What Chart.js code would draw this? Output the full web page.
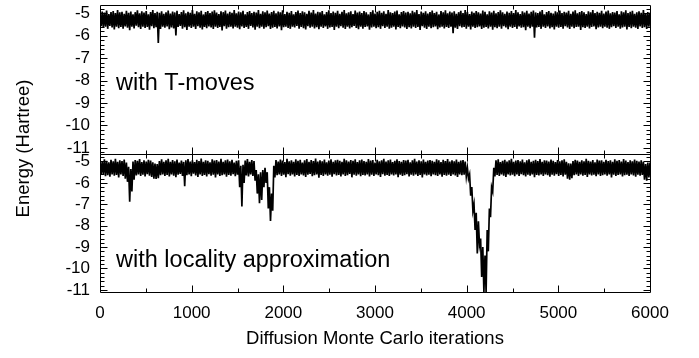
<!DOCTYPE html>
<html>
<head>
<meta charset="utf-8">
<script src="https://cdn.jsdelivr.net/npm/chart.js@4"></script>
<style>
  html, body { margin: 0; padding: 0; background: #fff; }
  #wrap { position: relative; width: 699px; height: 358px; }
</style>
</head>
<body>
<div id="wrap"><canvas id="chart" width="699" height="358"></canvas></div>
<script>
/* ---- data ---- */
const xTicks = [0, 1000, 2000, 3000, 4000, 5000, 6000];
const yTicks = [-11, -10, -9, -8, -7, -6, -5];
const panelLabels = ["with T-moves", "with locality approximation"];
const STEP = 12; // iterations between stored samples

// DMC energy trace with T-moves (every 12th iteration)
const tmoves = [
  -5.02,-5.58,-4.93,-5.66,-4.98,-5.61,-4.89,-5.70,-5.04,-5.57,-4.95,-5.64,-4.91,-5.73,-5.00,-5.60,-4.86,-5.67,-4.97,-5.62,
  -4.94,-5.69,-5.03,-5.59,-4.90,-5.65,-4.99,-5.76,-4.93,-5.61,-5.06,-5.68,-4.96,-5.56,-4.88,-5.63,-5.01,-5.71,-4.92,-5.60,
  -4.98,-5.66,-4.91,-5.62,-5.05,-5.74,-4.95,-5.58,-4.87,-5.67,-5.00,-5.63,-4.94,-6.33,-4.99,-5.70,-4.92,-5.61,-5.03,-5.65,
  -4.96,-5.59,-4.89,-5.72,-5.02,-5.64,-4.93,-5.68,-4.97,-6.00,-4.90,-5.62,-5.04,-5.57,-4.95,-5.69,-4.88,-5.63,-5.01,-5.75,
  -4.94,-5.60,-4.99,-5.66,-4.86,-5.61,-5.03,-5.70,-4.92,-5.58,-4.97,-5.65,-4.90,-5.73,-5.06,-5.62,-4.95,-5.67,-4.91,-5.59,
  -5.00,-5.64,-4.93,-5.71,-4.88,-5.60,-4.98,-5.66,-5.04,-5.62,-4.92,-5.77,-4.96,-5.58,-4.89,-5.69,-5.02,-5.63,-4.94,-5.61,
  -4.99,-5.68,-4.87,-5.60,-5.01,-5.65,-4.93,-5.72,-4.97,-5.59,-4.90,-5.66,-5.05,-5.62,-4.95,-5.70,-4.91,-5.57,-5.00,-5.64,
  -4.94,-5.74,-4.98,-5.61,-4.86,-5.67,-5.03,-5.60,-4.92,-5.69,-4.96,-5.63,-4.89,-5.58,-5.02,-5.71,-4.95,-5.65,-4.90,-5.62,
  -5.01,-5.68,-4.93,-5.59,-4.97,-5.76,-4.88,-5.63,-5.04,-5.61,-4.94,-5.66,-4.99,-5.70,-4.91,-5.60,-5.06,-5.64,-4.95,-5.57,
  -4.89,-5.69,-5.00,-5.62,-4.92,-5.67,-4.96,-5.73,-5.03,-5.58,-4.90,-5.65,-4.98,-5.61,-4.87,-5.68,-5.02,-5.63,-4.94,-5.72,
  -4.97,-5.60,-4.91,-5.66,-5.05,-5.59,-4.95,-5.70,-4.88,-5.64,-5.00,-5.62,-4.93,-5.75,-4.99,-5.61,-4.90,-5.67,-5.03,-5.58,
  -4.94,-5.65,-4.86,-5.71,-5.01,-5.60,-4.96,-5.68,-4.92,-5.63,-5.04,-5.57,-4.89,-5.66,-4.98,-5.72,-4.93,-5.61,-5.00,-5.69,
  -4.91,-5.62,-4.97,-5.59,-5.06,-5.74,-4.95,-5.64,-4.88,-5.60,-5.02,-5.67,-4.94,-5.63,-4.90,-5.70,-4.99,-5.58,-4.92,-5.66,
  -5.03,-5.61,-4.87,-5.69,-4.96,-5.65,-5.00,-5.60,-4.93,-5.73,-4.89,-5.62,-5.05,-5.67,-4.95,-5.59,-4.91,-5.64,-4.98,-5.71,
  -4.94,-5.63,-5.01,-5.68,-4.90,-5.60,-4.97,-5.66,-4.86,-5.62,-5.04,-5.75,-4.93,-5.58,-4.99,-5.65,-4.92,-5.70,-5.02,-5.61,
  -4.95,-5.67,-4.89,-5.63,-5.00,-5.59,-4.94,-5.72,-5.06,-5.64,-4.91,-5.60,-4.97,-5.68,-4.88,-5.62,-5.01,-5.66,-4.93,-5.61,
  -4.98,-5.90,-4.92,-5.65,-5.03,-5.70,-4.96,-5.58,-4.90,-5.64,-5.00,-5.62,-4.87,-5.69,-4.95,-5.61,-5.04,-5.73,-4.93,-5.60,
  -4.99,-5.66,-4.91,-5.63,-4.96,-5.59,-5.02,-5.71,-4.89,-5.65,-4.94,-5.62,-5.05,-5.68,-4.92,-5.60,-4.98,-5.74,-4.90,-5.63,
  -5.01,-5.67,-4.95,-5.61,-4.88,-5.69,-4.97,-5.58,-5.03,-5.64,-4.93,-5.72,-4.99,-5.60,-4.91,-5.66,-5.00,-5.62,-4.86,-5.70,
  -4.96,-5.59,-5.04,-5.65,-4.92,-5.63,-4.98,-5.76,-4.90,-5.61,-5.02,-5.67,-4.94,-5.60,-4.89,-6.10,-4.97,-5.64,-5.00,-5.62,
  -4.93,-5.70,-4.87,-5.61,-5.05,-5.66,-4.95,-5.59,-4.91,-5.68,-4.99,-5.63,-5.02,-5.73,-4.92,-5.60,-4.96,-5.65,-4.89,-5.62,
  -5.00,-5.69,-4.94,-5.58,-4.98,-5.64,-4.90,-5.71,-5.03,-5.61,-4.93,-5.67,-4.88,-5.62,-5.01,-5.60,-4.95,-5.75,-4.91,-5.63,
  -4.97,-5.66,-5.04,-5.60,-4.92,-5.68,-4.96,-5.62,-4.86,-5.59,-5.00,-5.72,-4.94,-5.64,-4.99,-5.61,-4.90,-5.67,-5.02,-5.60,
  -4.93,-5.65,-4.89,-5.70,-5.01,-5.63,-4.95,-5.58,-4.98,-5.66,-4.91,-5.61,-5.05,-5.69,-4.92,-5.64,-4.97,-5.60,-4.88,-5.73,
  -5.00,-5.62,-4.94,-5.67,-4.90,-5.60,-5.03,-5.65,-4.96,-5.71,-4.92,-5.59,-4.99,-5.66,-4.87,-5.63,-5.01,-5.70,-4.95,-5.61,
  -4.98
];

// DMC energy trace with the locality approximation (every 12th iteration)
const locality = [
  -4.95,-5.62,-5.01,-5.58,-4.90,-5.69,-4.97,-5.64,-5.04,-5.71,-4.92,-5.60,-4.99,-5.66,-4.88,-5.63,-5.02,-5.74,-4.94,-5.61,
  -4.98,-5.67,-4.91,-5.80,-5.05,-5.95,-5.25,-6.88,-5.35,-6.40,-5.00,-5.85,-4.93,-5.65,-4.97,-5.60,-4.89,-5.68,-5.03,-5.62,
  -4.94,-5.70,-5.00,-5.59,-4.92,-5.66,-4.96,-5.72,-5.04,-5.80,-5.10,-5.82,-5.12,-5.78,-4.98,-5.64,-4.90,-5.61,-5.01,-5.67,
  -4.95,-5.63,-4.87,-5.70,-5.02,-5.60,-4.93,-5.66,-4.99,-5.73,-4.91,-5.62,-5.05,-5.58,-4.96,-5.68,-5.02,-6.15,-4.94,-5.64,
  -4.89,-5.61,-5.00,-5.69,-4.95,-5.57,-5.03,-5.65,-4.92,-5.72,-4.98,-5.60,-4.86,-5.67,-5.01,-5.63,-4.94,-5.70,-4.97,-5.59,
  -5.04,-5.66,-4.90,-5.62,-4.96,-5.75,-4.93,-5.61,-5.00,-5.68,-4.88,-5.64,-5.02,-5.60,-4.95,-5.71,-4.91,-5.63,-4.99,-5.66,
  -4.92,-5.59,-5.05,-5.69,-4.97,-5.62,-4.94,-6.20,-5.20,-7.10,-5.15,-6.00,-4.96,-5.65,-4.89,-5.70,-5.01,-5.61,-4.93,-5.67,
  -4.98,-5.90,-5.40,-6.50,-5.60,-6.95,-5.50,-6.80,-5.40,-6.20,-5.30,-6.00,-5.50,-7.20,-6.20,-7.78,-6.50,-7.30,-5.20,-5.75,
  -4.93,-5.64,-5.00,-5.60,-4.91,-5.68,-4.96,-5.62,-5.03,-5.73,-4.88,-5.59,-4.99,-5.66,-4.94,-5.61,-5.02,-5.70,-4.90,-5.63,
  -4.97,-5.67,-4.92,-5.60,-5.05,-5.65,-4.95,-5.72,-4.89,-5.62,-5.01,-5.58,-4.93,-5.69,-4.98,-5.64,-4.86,-5.61,-5.00,-5.76,
  -4.94,-5.63,-4.99,-5.68,-4.91,-5.60,-5.04,-5.66,-4.96,-5.62,-4.90,-5.71,-5.02,-5.59,-4.95,-5.65,-4.92,-5.63,-4.97,-5.70,
  -5.01,-5.61,-4.88,-5.67,-4.94,-5.64,-5.00,-5.58,-4.93,-5.74,-4.97,-5.62,-4.90,-5.66,-5.03,-5.60,-4.95,-5.69,-4.91,-5.63,
  -4.98,-5.65,-5.02,-5.61,-4.89,-5.70,-4.96,-5.62,-4.93,-5.67,-5.05,-5.60,-4.92,-5.64,-4.99,-5.72,-4.94,-5.59,-4.87,-5.66,
  -5.00,-5.63,-4.95,-5.68,-4.91,-5.61,-5.03,-5.65,-4.97,-5.60,-4.90,-5.73,-4.98,-5.62,-5.01,-5.67,-4.93,-5.64,-4.96,-5.59,
  -4.92,-5.70,-5.04,-5.62,-4.94,-5.66,-4.88,-5.61,-5.00,-5.68,-4.95,-5.63,-4.99,-5.75,-4.91,-5.60,-5.02,-5.65,-4.96,-5.62,
  -4.93,-5.69,-4.97,-5.61,-5.01,-5.64,-4.90,-5.67,-4.95,-5.60,-5.03,-5.71,-4.92,-5.63,-4.98,-5.66,-4.89,-5.62,-5.00,-5.68,
  -4.94,-5.61,-4.99,-5.65,-4.91,-5.72,-5.02,-5.60,-4.96,-5.64,-4.93,-5.62,-5.00,-5.70,-5.30,-5.80,-5.60,-6.60,-6.20,-7.30,
  -7.00,-8.20,-7.40,-9.30,-7.80,-8.90,-8.60,-10.40,-9.00,-11.10,-9.40,-11.10,-8.20,-9.20,-7.20,-7.60,-6.20,-6.40,-5.30,-5.70,
  -4.95,-5.63,-4.90,-5.68,-5.03,-5.61,-4.97,-5.66,-4.92,-5.72,-5.00,-5.60,-4.94,-5.65,-4.88,-5.62,-5.02,-5.69,-4.96,-5.61,
  -4.93,-5.67,-4.99,-5.59,-4.91,-5.64,-5.04,-5.70,-4.95,-5.62,-4.90,-5.66,-5.01,-5.60,-4.97,-5.73,-4.92,-5.63,-4.98,-5.65,
  -4.89,-5.61,-5.02,-5.68,-4.94,-5.60,-4.96,-5.64,-5.00,-5.71,-4.91,-5.62,-4.97,-5.66,-5.03,-5.59,-4.93,-5.67,-4.99,-5.63,
  -4.95,-5.70,-4.90,-5.62,-5.01,-5.80,-5.08,-5.85,-5.10,-5.78,-4.98,-5.64,-4.92,-5.61,-4.96,-5.68,-5.02,-5.60,-4.94,-5.66,
  -4.99,-5.63,-4.88,-5.72,-4.97,-5.61,-5.00,-5.65,-4.93,-5.62,-5.04,-5.69,-4.91,-5.60,-4.96,-5.67,-4.94,-5.64,-5.01,-5.61,
  -4.92,-5.66,-4.98,-5.60,-4.95,-5.74,-5.02,-5.62,-4.90,-5.68,-4.97,-5.63,-4.93,-5.61,-5.00,-5.70,-4.89,-5.64,-4.96,-5.62,
  -5.03,-5.67,-4.94,-5.60,-4.99,-5.65,-4.91,-5.71,-4.97,-5.62,-5.00,-5.66,-4.95,-5.63,-5.02,-5.85,-5.12,-5.90,-5.05,-5.75,
  -5.05
];

const iters = tmoves.map((_, i) => i * STEP);
const toXY = arr => arr.map((v, i) => ({ x: iters[i], y: v }));

Chart.defaults.font.family = '"Liberation Sans", Arial, Helvetica, sans-serif';
Chart.defaults.color = '#000';

/* ---- frame, inward ticks and panel labels ---- */
const framePlugin = {
  id: 'frame',
  afterDatasetsDraw(chart) {
    const { ctx, chartArea: a, scales } = chart;
    const xs = scales.x;
    const L = Math.round(a.left) + 0.5, R = Math.round(a.right) + 0.5;
    ctx.save();
    ctx.strokeStyle = '#000';
    ctx.lineWidth = 1;
    ctx.beginPath();
    for (const id of ['yTop', 'yBot']) {
      const s = scales[id];
      const T = Math.round(s.top) + 0.5, B = Math.round(s.bottom) + 0.5;
      ctx.rect(L, T, R - L, B - T);
      // y ticks: minor every 0.2, major every 1
      for (let k = -112; k <= -46; k += 2) {
        const v = k / 10;
        if (v < s.min || v > s.max) continue;
        const len = k % 10 === 0 ? 7 : 4;
        const py = Math.round(s.getPixelForValue(v)) + 0.5;
        ctx.moveTo(L, py); ctx.lineTo(L + len, py);
        ctx.moveTo(R, py); ctx.lineTo(R - len, py);
      }
      // x ticks: minor every 500, major every 1000
      for (let v = 500; v < 6000; v += 500) {
        const len = v % 1000 === 0 ? 7 : 4;
        const px = Math.round(xs.getPixelForValue(v)) + 0.5;
        ctx.moveTo(px, T); ctx.lineTo(px, T + len);
        ctx.moveTo(px, B); ctx.lineTo(px, B - len);
      }
    }
    ctx.stroke();

    ctx.fillStyle = '#000';
    ctx.font = '23.5px "Liberation Sans", Arial, sans-serif';
    ctx.textAlign = 'left';
    ctx.textBaseline = 'alphabetic';
    ctx.fillText(panelLabels[0], xs.getPixelForValue(175), scales.yTop.getPixelForValue(-8.4));
    ctx.fillText(panelLabels[1], xs.getPixelForValue(175), scales.yBot.getPixelForValue(-9.93));
    ctx.restore();
  }
};

function yPanel(min, max, weight, stackWeight) {
  return {
    type: 'linear',
    position: 'left',
    stack: 'energy',
    stackWeight: stackWeight,
    weight: weight,
    min: min,
    max: max,
    grid: { display: false, drawTicks: false },
    border: { display: false },
    ticks: { font: { size: 17 }, padding: 10, autoSkip: false, callback: v => String(v) },
    afterBuildTicks: s => { s.ticks = yTicks.map(v => ({ value: v })); },
    afterFit: s => { s.width = 60; s.paddingTop = 0; s.paddingBottom = 0; }
  };
}

const traceStyle = { borderColor: '#000', borderWidth: 1.7, pointRadius: 0, tension: 0, fill: false };

new Chart(document.getElementById('chart'), {
  type: 'line',
  data: {
    datasets: [
      Object.assign({ label: panelLabels[0], data: toXY(tmoves), yAxisID: 'yTop' }, traceStyle),
      Object.assign({ label: panelLabels[1], data: toXY(locality), yAxisID: 'yBot' }, traceStyle)
    ]
  },
  options: {
    responsive: false,
    animation: false,
    events: [],
    layout: { padding: { top: 5, right: 49, left: 0, bottom: 0 } },
    plugins: { legend: { display: false }, tooltip: { enabled: false } },
    scales: {
      x: {
        type: 'linear', min: 0, max: 6000,
        grid: { display: false, drawTicks: false },
        border: { display: false },
        ticks: { font: { size: 17 }, padding: 11, maxRotation: 0, autoSkip: false, callback: v => String(v) },
        afterBuildTicks: s => { s.ticks = xTicks.map(v => ({ value: v })); },
        afterFit: s => { s.height = 66; },
        title: { display: true, text: 'Diffusion Monte Carlo iterations',
                 font: { size: 18.5 }, padding: { top: 0, bottom: 8.4 } }
      },
      yTop: yPanel(-11.27, -4.64, 2, 149),
      yBot: yPanel(-11.1, -4.65, 1, 138),
      yTitle: {
        type: 'linear', position: 'left', weight: 3,
        grid: { display: false, drawTicks: false },
        border: { display: false },
        ticks: { display: false },
        title: { display: true, text: 'Energy (Hartree)', font: { size: 18.5 }, padding: { top: 13, bottom: 0 } },
        afterFit: s => { s.width = 40; s.paddingTop = 0; s.paddingBottom = 0; }
      }
    }
  },
  plugins: [framePlugin]
});
</script>
</body>
</html>
